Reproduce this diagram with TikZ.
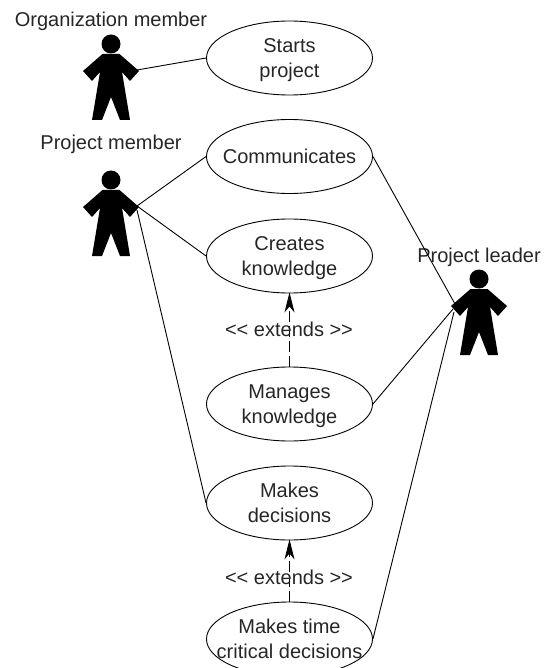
\documentclass[tikz,border=0pt]{standalone}
\usepackage{fontspec}
\setmainfont{Liberation Sans}
\usetikzlibrary{shapes.geometric,arrows.meta}
\newcommand\firstline{\rule{0pt}{18.5pt}}
\newcommand\lastline{\rule[-4.2pt]{0pt}{4.2pt}}
\tikzset{
  usecase/.style={ellipse,draw=black,line width=0.9pt,minimum width=166pt,minimum height=74pt,inner sep=-30pt,align=center,text=black!85,font=\fontsize{20}{25}\selectfont},
  lbl/.style={inner sep=0pt,text=black!85,font=\fontsize{20}{25}\selectfont},
  assoc/.style={draw=black,line width=0.9pt},
  ext/.style={draw=black,line width=0.9pt,dash pattern=on 11pt off 4pt,-{Stealth[length=20pt,width=10pt,inset=6pt]},shorten >=-1pt},
  actor/.pic={
    \fill[black] (0,-10) circle[radius=9.5pt];
    \fill[black] (-8.5,0) -- (8.5,0) -- (28,17) -- (19,27) -- (11,18) -- (19,66) -- (9,66) -- (0,43) -- (-9,66) -- (-19,66) -- (-11,18) -- (-19,27) -- (-28,17) -- cycle;
    \coordinate (-lefthi) at (-24,15);
    \coordinate (-leftmid) at (-26,20);
    \coordinate (-leftlo) at (-25,23);
    \coordinate (-right) at (26,16);
    \coordinate (-rightlo) at (26,20);
  }
}
\begin{document}
\begin{tikzpicture}[x=1pt,y=-1pt]
\useasboundingbox (0,0) rectangle (544,668);
\clip (0,0) rectangle (544,668);
\pic (orgm) at (111,54) {actor};
\pic (prjm) at (111,190) {actor};
\pic (lead) at (479,289) {actor};
\node[lbl] (orglabel) at (111,21) {Organization member};
\node[lbl] (prjlabel) at (111,144) {Project member};
\node[lbl] (leadlabel) at (479,257) {Project leader};
\node[usecase] (starts) at (289.5,58) {\firstline Starts\\project\lastline};
\node[usecase] (comm) at (289.5,156.5) {Communicates};
\node[usecase] (creates) at (289.5,256) {\firstline Creates\\knowledge\lastline};
\node[usecase] (manages) at (289.5,404) {\firstline Manages\\knowledge\lastline};
\node[usecase] (decide) at (289.5,503) {\firstline Makes\\decisions\lastline};
\node[usecase] (timecrit) at (289.5,639) {\firstline Makes time\\critical decisions\lastline};
\draw[assoc] (orgm-right) -- (starts.west);
\draw[assoc] (prjm-right) -- (comm.west);
\draw[assoc] (prjm-right) -- (creates.west);
\draw[assoc] (prjm-rightlo) -- (decide.west);
\draw[assoc] (comm.east) -- (lead-lefthi);
\draw[assoc] (manages.east) -- (lead-leftmid);
\draw[assoc] (timecrit.east) -- (lead-leftlo);
\draw[ext] (manages.north) -- (creates.south);
\draw[ext] (timecrit.north) -- (decide.south);
\node[lbl] (ext1) at (289,329) {<{}< extends >{}>};
\node[lbl] (ext2) at (289,577) {<{}< extends >{}>};
\end{tikzpicture}
\end{document}
